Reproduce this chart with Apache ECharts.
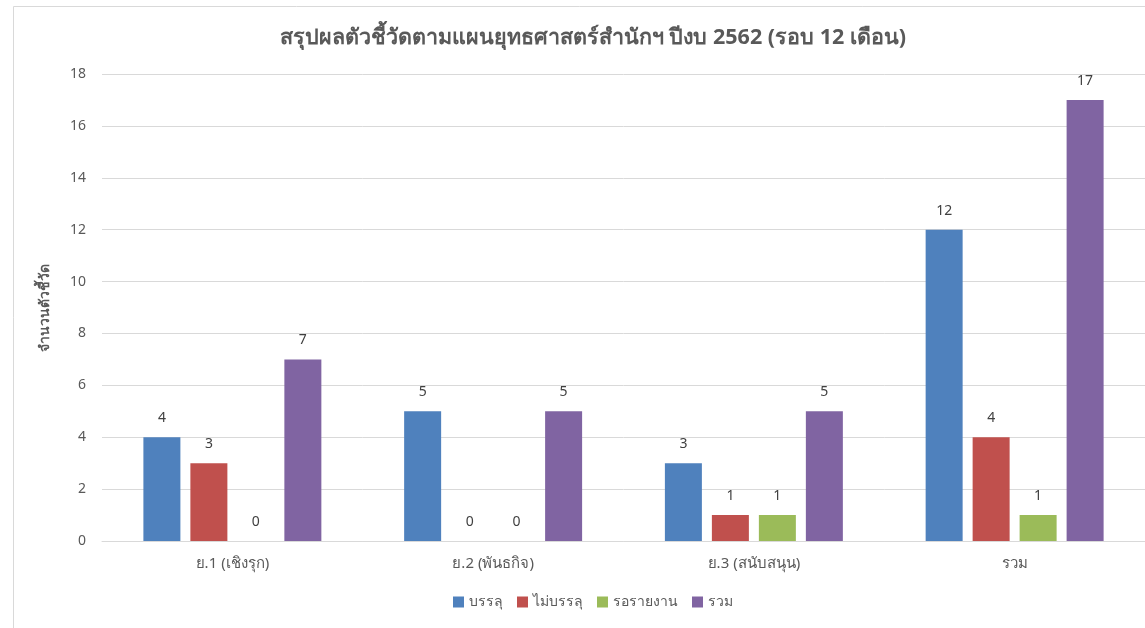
<!DOCTYPE html>
<html>
<head>
<meta charset="utf-8">
<script src="https://cdn.jsdelivr.net/npm/echarts@6/dist/echarts.min.js"></script>
<style>
  html, body { margin: 0; padding: 0; background: #fff; }
  #chart { width: 1145px; height: 628px; }
</style>
</head>
<body>
<div id="chart"></div>
<script>
// data
const categories = ['ย.1 (เชิงรุก)', 'ย.2 (พันธกิจ)', 'ย.3 (สนับสนุน)', 'รวม'];
const seriesNames = ['บรรลุ', 'ไม่บรรลุ', 'รอรายงาน', 'รวม'];
const passed = [4, 5, 3, 12];
const notPassed = [3, 0, 1, 4];
const waiting = [0, 0, 1, 1];
const total = [7, 5, 5, 17];
const colors = ['#4F81BD', '#C0504D', '#9BBB59', '#8064A2'];

const font = 'Tahoma, "Noto Sans", "DejaVu Sans", sans-serif';
const chart = echarts.init(document.getElementById('chart'));

function bar(name, data, color) {
  return {
    name: name,
    type: 'bar',
    data: data,
    barWidth: 37,
    barGap: '27%',
    itemStyle: { color: color },
    label: {
      show: true,
      position: 'top',
      distance: 12,
      color: '#404040',
      fontSize: 14,
      fontFamily: font
    }
  };
}

chart.setOption({
  animation: false,
  color: colors,
  textStyle: { fontFamily: font },
  title: {
    text: 'สรุปผลตัวชี้วัดตามแผนยุทธศาสตร์สำนักฯ ปีงบ 2562 (รอบ 12 เดือน)',
    left: 588,
    textAlign: 'center',
    top: 22,
    textStyle: { fontSize: 21.5, fontWeight: 'bold', color: '#595959', fontFamily: font }
  },
  legend: {
    data: seriesNames,
    bottom: 14,
    left: 448,
    itemWidth: 11,
    itemHeight: 11,
    itemGap: 14,
    icon: 'rect',
    textStyle: { fontSize: 14, color: '#595959', fontFamily: font }
  },
  grid: { left: 102, right: -1, top: 74, bottom: 87, containLabel: false },
  xAxis: {
    type: 'category',
    data: categories,
    axisLine: { lineStyle: { color: '#d9d9d9' } },
    axisTick: { show: false },
    axisLabel: { color: '#595959', fontSize: 15, margin: 15, fontFamily: font }
  },
  yAxis: {
    type: 'value',
    min: 0,
    max: 18,
    interval: 2,
    name: 'จำนวนตัวชี้วัด',
    nameLocation: 'middle',
    nameGap: 50,
    nameTextStyle: { fontSize: 14, fontWeight: 'bold', color: '#595959', fontFamily: font },
    axisLine: { show: false },
    axisTick: { show: false },
    axisLabel: { color: '#595959', fontSize: 14, margin: 16, fontFamily: font },
    splitLine: { lineStyle: { color: '#d9d9d9', width: 1 } }
  },
  graphic: [{
    type: 'rect',
    shape: { x: 13.5, y: 6.5, width: 1300, height: 800 },
    style: { fill: 'none', stroke: '#d9d9d9', lineWidth: 1 },
    silent: true
  }],
  series: [
    bar(seriesNames[0], passed, colors[0]),
    bar(seriesNames[1], notPassed, colors[1]),
    bar(seriesNames[2], waiting, colors[2]),
    bar(seriesNames[3], total, colors[3])
  ]
});
</script>
</body>
</html>
